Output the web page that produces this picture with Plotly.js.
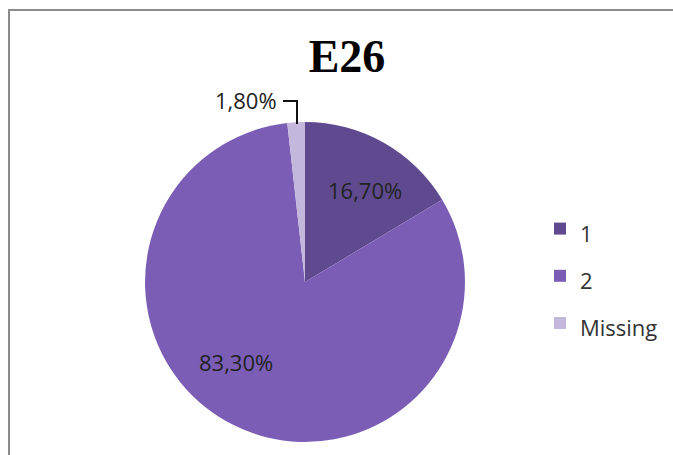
<!DOCTYPE html>
<html>
<head>
<meta charset="utf-8">
<script src="https://cdn.plot.ly/plotly-3.0.1.min.js"></script>
<style>
  html, body { margin: 0; padding: 0; background: #ffffff; }
  #wrap { position: relative; width: 673px; height: 455px; overflow: hidden; }
  #chart { width: 673px; height: 455px; }
  #frame { position: absolute; left: 8px; top: 9px; width: 700px; height: 500px;
           border-left: 2px solid #8c8c8c; border-top: 2px solid #8c8c8c; pointer-events: none; }
</style>
</head>
<body>
<div id="wrap">
  <div id="chart"></div>
  <div id="frame"></div>
</div>
<script>
const categories = ["1", "2", "Missing"];
const values = [16.7, 83.3, 1.8];
const sliceColors = ["#5f4a8f", "#7c5db5", "#c3b8dc"];
const labelText = values.map(v => v.toFixed(2).replace(".", ",") + "%");

const W = 673, H = 455;
const px = x => x / W;
const py = y => 1 - y / H;

const labelFont = { family: "'Open Sans', Lato, sans-serif", size: 22, color: "#222222" };
// label anchor points (pixel) for each slice's data label
const labelPos = [[365, 190], [236, 362], [246, 100]];

const trace = {
  type: "pie",
  labels: categories.map(c => "<span style='font-size:22px'>" + c + "</span>"),
  values: values,
  text: labelText,
  textinfo: "none",
  hoverinfo: "label+text",
  sort: false,
  direction: "clockwise",
  rotation: 0,
  marker: { colors: sliceColors, line: { color: "#ffffff", width: 0 } },
  domain: { x: [0.2155, 0.6909], y: [0.0286, 0.7319] },
  showlegend: true
};

const annotations = labelText.map((t, i) => ({
  text: t,
  x: px(labelPos[i][0]), y: py(labelPos[i][1]),
  xref: "paper", yref: "paper",
  xanchor: "center", yanchor: "middle",
  showarrow: false,
  font: labelFont
}));

const layout = {
  width: W,
  height: H,
  margin: { l: 0, r: 0, t: 0, b: 0 },
  paper_bgcolor: "#ffffff",
  title: {
    text: "<b>E26</b>",
    font: { family: "'Liberation Serif', 'Times New Roman', serif", size: 46, color: "#000000" },
    x: 0.5156, xanchor: "center", xref: "paper",
    y: (H - 56) / H, yanchor: "middle", yref: "container"
  },
  legend: {
    x: 540 / W, xanchor: "left",
    y: py(200), yanchor: "top",
    font: { family: "'Open Sans', Lato, sans-serif", size: 34, color: "#333333" },
    bgcolor: "rgba(0,0,0,0)"
  },
  annotations: annotations,
  shapes: [{
    type: "path",
    xref: "paper", yref: "paper",
    path: "M " + px(283) + "," + py(101) + " L " + px(297) + "," + py(101) + " L " + px(297) + "," + py(124),
    line: { color: "#111111", width: 2 }
  }]
};

Plotly.newPlot("chart", [trace], layout, { displayModeBar: false, staticPlot: true });
</script>
</body>
</html>
